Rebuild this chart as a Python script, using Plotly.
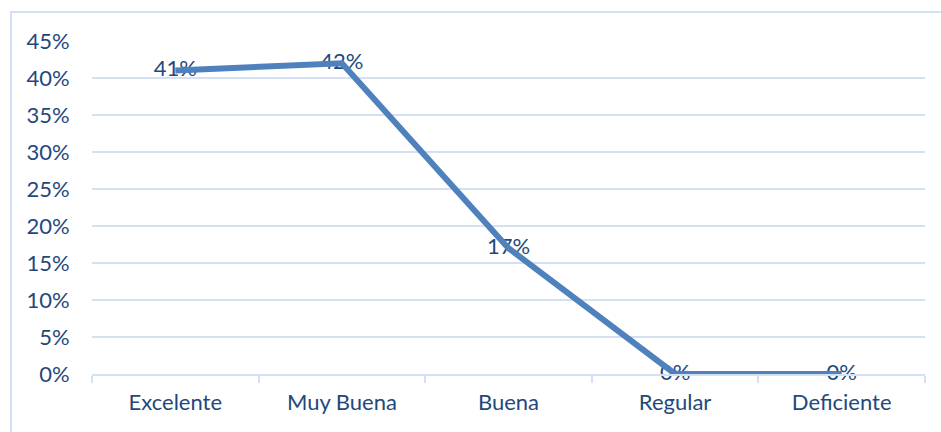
import plotly.graph_objects as go

categories = ["Excelente", "Muy Buena", "Buena", "Regular", "Deficiente"]
values = [0.41, 0.42, 0.17, 0.0, 0.0]
labels = ["41%", "42%", "17%", "0%", "0%"]

text_color = "#1F497D"
grid_color = "#D5E0F2"
font_family = "Lato, 'Open Sans', sans-serif"

fig = go.Figure()
fig.add_trace(go.Scatter(
    x=categories, y=values, mode="text",
    text=labels, textposition="middle center",
    textfont=dict(size=22, color=text_color, family=font_family),
    hoverinfo="skip", cliponaxis=False,
))
fig.add_trace(go.Scatter(
    x=categories, y=values, mode="lines",
    line=dict(color="#4F81BD", width=6),
    hoverinfo="skip", cliponaxis=False,
))

fig.update_layout(
    width=941, height=432,
    margin=dict(l=92, r=16, t=41, b=58, autoexpand=False),
    paper_bgcolor="white", plot_bgcolor="white",
    showlegend=False,
    font=dict(family=font_family, color=text_color, size=22),
    xaxis=dict(
        type="category", range=[-0.5, 4.5],
        showgrid=False, showline=True, linecolor=grid_color, linewidth=2,
        ticks="outside", tickson="boundaries", tickcolor=grid_color, ticklen=7, tickwidth=2,
        ticklabelstandoff=8,
        tickfont=dict(size=22, color=text_color),
        zeroline=False,
    ),
    yaxis=dict(
        range=[0, 0.45], dtick=0.05, tick0=0, tickformat=".0%",
        showgrid=True, gridcolor=grid_color, gridwidth=2,
        showline=False, zeroline=False,
        ticks="outside", ticklen=17, tickcolor="rgba(0,0,0,0)",
        tickfont=dict(size=22, color=text_color),
    ),
    shapes=[dict(
        type="rect", xref="paper", yref="paper",
        x0=(11 - 92) / 833, x1=(945 - 92) / 833,
        y0=-(440 - 374) / 333, y1=(374 - 12) / 333,
        line=dict(color=grid_color, width=2), fillcolor="rgba(0,0,0,0)", layer="below",
    )],
)

fig.write_html(
    "out.html",
    config={"displayModeBar": False},
    post_script="document.body.style.margin='0';document.body.style.overflow='hidden';",
)
